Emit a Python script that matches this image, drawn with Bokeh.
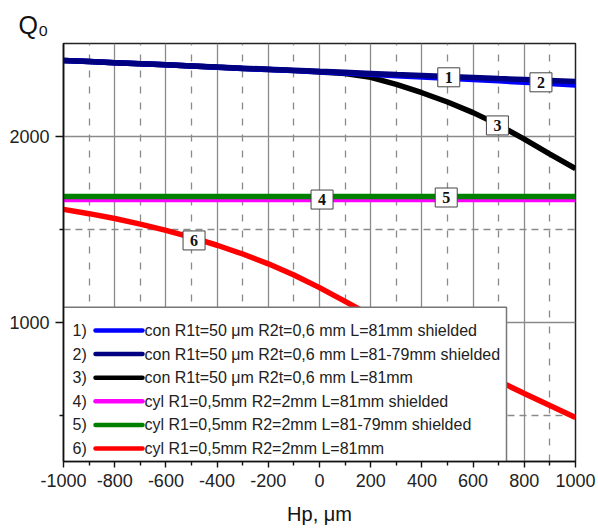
from bokeh.plotting import figure
from bokeh.models import FixedTicker, Label
from bokeh.core.properties import value
from bokeh.embed import file_html
from bokeh.resources import INLINE

# ---------------- data ----------------
hp = [-1000, -900, -800, -700, -600, -500, -400, -300, -200, -100, 0,
      100, 200, 300, 400, 500, 600, 700, 800, 900, 1000]
q1 = [2409, 2403, 2397, 2391, 2385, 2379, 2372, 2366, 2360, 2354, 2348,
      2341, 2334, 2327, 2320, 2313, 2306, 2299, 2291, 2284, 2276]
q2 = [2409, 2403, 2397, 2391, 2385, 2379, 2373, 2367, 2362, 2356, 2350,
      2345, 2339, 2333, 2328, 2322, 2317, 2311, 2306, 2301, 2296]
q3 = [2409, 2403, 2397, 2391, 2385, 2379, 2372, 2366, 2360, 2354, 2347,
      2338, 2318, 2280, 2235, 2185, 2128, 2062, 1985, 1905, 1826]
q4 = [1660] * 21
q5 = [1677] * 21
q6 = [1607, 1584, 1558, 1528, 1494, 1456, 1414, 1367, 1314, 1254, 1186,
      1112, 1037, 962, 889, 818, 750, 683, 616, 551, 487]

series_colors = ["#0000FF", "#000080", "#000000", "#FF00FF", "#008000", "#FF0000"]
legend_numbers = ["1)", "2)", "3)", "4)", "5)", "6)"]
legend_texts = [
    "con R1t=50 \u03bcm R2t=0,6 mm L=81mm shielded",
    "con R1t=50 \u03bcm R2t=0,6 mm L=81-79mm shielded",
    "con R1t=50 \u03bcm R2t=0,6 mm L=81mm",
    "cyl R1=0,5mm R2=2mm L=81mm shielded",
    "cyl R1=0,5mm R2=2mm L=81-79mm shielded",
    "cyl R1=0,5mm R2=2mm L=81mm",
]
tag_text = ["1", "2", "3", "4", "5", "6"]
tag_x = [505, 865, 695, 10, 495, -490]
tag_y = [2318, 2291, 2059, 1660, 1671, 1440]

x_major = [-1000, -800, -600, -400, -200, 0, 200, 400, 600, 800, 1000]
x_minor = [-900, -700, -500, -300, -100, 100, 300, 500, 700, 900]
y_major = [1000, 2000]
y_minor = [500, 1500]

y_title = "Q\u2080"
x_title = "Hp, \u03bcm"

# ---------------- layout ----------------
X0, X1 = -1000, 1000
Y0, Y1 = 250, 2500
FW, FH = 512, 418
BL, BR, BT, BB = 63, 23, 43, 71


def dx(px):
    return X0 + (px - BL) * (X1 - X0) / FW


def dy(py):
    return Y1 - (py - BT) * (Y1 - Y0) / FH


FONT = "Liberation Sans"

p = figure(frame_width=FW, frame_height=FH, x_range=(X0, X1), y_range=(Y0, Y1),
           output_backend="svg", toolbar_location=None,
           min_border_left=BL, min_border_right=BR, min_border_top=BT,
           min_border_bottom=BB, background_fill_color="white",
           border_fill_color="white", title=y_title)

p.title.text_font = FONT
p.title.text_font_size = "25px"
p.title.text_font_style = "normal"
p.title.text_color = "#111111"
p.title.align = "left"
p.title.offset = -45
p.title.standoff = 9

xt = FixedTicker(ticks=x_major, minor_ticks=x_minor)
yt = FixedTicker(ticks=y_major, minor_ticks=y_minor)
p.xaxis.ticker = xt
p.yaxis.ticker = yt
p.xgrid.ticker = xt
p.ygrid.ticker = yt
p.xaxis.major_label_overrides = {t: str(t) for t in x_major}
p.yaxis.major_label_overrides = {t: str(t) for t in y_major}

p.xaxis.axis_label = x_title
p.xaxis.axis_label_text_font = FONT
p.xaxis.axis_label_text_font_size = "20px"
p.xaxis.axis_label_text_font_style = "normal"
p.xaxis.axis_label_text_color = "#111111"
p.xaxis.axis_label_standoff = 13

for g in (p.xgrid, p.ygrid):
    g.grid_line_color = "#8a8a8a"
    g.grid_line_width = 1.3
    g.minor_grid_line_color = "#8a8a8a"
    g.minor_grid_line_width = 1.3
p.xgrid.minor_grid_line_dash = "7 9"
p.ygrid.minor_grid_line_dash = "7 5"

for ax in (p.xaxis, p.yaxis):
    ax.axis_line_color = "#111111"
    ax.axis_line_width = 1.6
    ax.major_tick_line_color = "#111111"
    ax.minor_tick_line_color = "#111111"
    ax.major_tick_line_width = 1.4
    ax.minor_tick_line_width = 1.4
    ax.major_tick_in = 0
    ax.minor_tick_in = 0
    ax.minor_tick_out = 4
    ax.major_label_text_font = FONT
    ax.major_label_text_font_size = "18px"
    ax.major_label_text_color = "#222222"
p.xaxis.major_tick_out = 6
p.yaxis.major_tick_out = 8
p.xaxis.major_label_standoff = 6
p.yaxis.major_label_standoff = 6

p.outline_line_color = "#222222"
p.outline_line_width = 1.5

# curves
for q, c in [(q4, series_colors[3]), (q5, series_colors[4]), (q6, series_colors[5]),
             (q3, series_colors[2]), (q1, series_colors[0]), (q2, series_colors[1])]:
    p.line(hp, q, line_color=c, line_width=5.5)

# legend box (drawn manually: number, sample line, text)
p.quad(left=X0, right=dx(506), top=dy(306.7), bottom=Y0,
       fill_color="white", line_color="#777777", line_width=1.5)
row_y = [dy(330 + i * 23.6) for i in range(6)]
p.segment(x0=[dx(95)] * 6, x1=[dx(142)] * 6, y0=row_y, y1=row_y,
          line_color=series_colors, line_width=4.5, line_cap="round")
p.text(x=[dx(72)] * 6, y=row_y, text=legend_numbers, text_font=value(FONT),
       text_font_size=value("16px"), text_color="#222222",
       text_baseline="middle", text_align="left")
p.text(x=[dx(144)] * 6, y=row_y, text=legend_texts, text_font=value(FONT),
       text_font_size=value("16px"), text_color="#222222",
       text_baseline="middle", text_align="left")

# curve tags
for t, x, y in zip(tag_text, tag_x, tag_y):
    p.add_layout(Label(x=x, y=y, text=t, text_font="Liberation Serif",
                       text_font_style="bold", text_font_size="16px",
                       text_align="center", text_baseline="middle",
                       text_color="#111111",
                       background_fill_color="white", border_line_color="#444444",
                       border_line_width=1,
                       padding=dict(left=7, right=7, top=4, bottom=4)))

open("out.html", "w").write(file_html(p, INLINE))
